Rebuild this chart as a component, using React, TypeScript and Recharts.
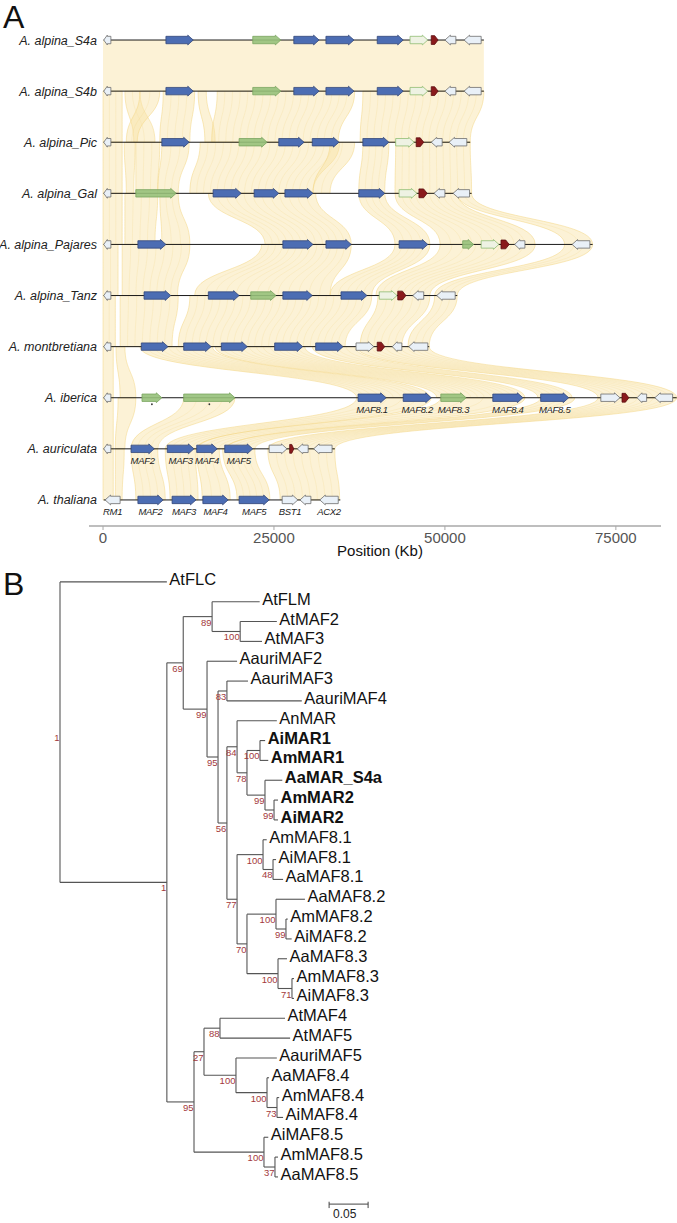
import React from "react"
import { ComposedChart, Scatter, XAxis, YAxis, ReferenceArea, ReferenceLine } from "recharts"

const FONT = "'Liberation Sans', Arial, Helvetica, sans-serif"

// ---------- panel A : synteny ----------
const trackNames = [
  "A. alpina_S4a",
  "A. alpina_S4b",
  "A. alpina_Pic",
  "A. alpina_Gal",
  "A. alpina_Pajares",
  "A. alpina_Tanz",
  "A. montbretiana",
  "A. iberica",
  "A. auriculata",
  "A. thaliana",
]
const trackStart = 100
const trackEnds = [55700, 55700, 53700, 53900, 71600, 51800, 47700, 83900, 33900, 34700]
const positionTicks = [0, 25000, 50000, 75000]

// [start kb, end kb, kind, strand, label?, dot?]
// kinds: b = blue MAF, g = green, l = pale green outline, r = red, w = white
type Gene = [number, number, string, number, string?, boolean?]

const s4aGenes: Gene[] = [
  [100, 1150, "w", -1],
  [9200, 13200, "b", 1],
  [21900, 26000, "g", 1],
  [27900, 31600, "b", 1],
  [32600, 36700, "b", 1],
  [40100, 43900, "b", 1],
  [44900, 47500, "l", 1],
  [48000, 49000, "r", 1],
  [50000, 51600, "w", -1],
  [52800, 55300, "w", -1],
]
const s4bGenes: Gene[] = [
  [100, 1150, "w", -1],
  [9200, 13200, "b", 1],
  [21900, 26000, "g", 1],
  [27900, 31600, "b", 1],
  [32600, 36700, "b", 1],
  [40100, 43900, "b", 1],
  [44900, 47500, "l", 1],
  [48000, 49000, "r", 1],
  [50000, 51600, "w", -1],
  [52800, 55300, "w", -1],
]
const picGenes: Gene[] = [
  [100, 1150, "w", -1],
  [8600, 12600, "b", 1],
  [19900, 24000, "g", 1],
  [25700, 29400, "b", 1],
  [30600, 34500, "b", 1],
  [38000, 41800, "b", 1],
  [42800, 45500, "l", 1],
  [45800, 46900, "r", 1],
  [48000, 49600, "w", -1],
  [50600, 53200, "w", -1],
]
const galGenes: Gene[] = [
  [100, 1150, "w", -1],
  [4800, 10700, "g", 1],
  [16100, 20200, "b", 1],
  [22100, 25700, "b", 1],
  [26600, 30700, "b", 1],
  [37400, 41200, "b", 1],
  [43300, 45900, "l", 1],
  [46200, 47400, "r", 1],
  [48400, 50000, "w", -1],
  [51200, 53600, "w", -1],
]
const pajaresGenes: Gene[] = [
  [100, 1150, "w", -1],
  [5100, 9200, "b", 1],
  [26300, 30700, "b", 1],
  [32600, 36300, "b", 1],
  [43300, 47500, "b", 1],
  [52600, 54200, "g", 1],
  [55300, 57900, "l", 1],
  [58200, 59400, "r", 1],
  [60200, 61700, "w", -1],
  [68600, 71200, "w", -1],
]
const tanzGenes: Gene[] = [
  [100, 1150, "w", -1],
  [6000, 9900, "b", 1],
  [15400, 19900, "b", 1],
  [21600, 25300, "g", 1],
  [26300, 30600, "b", 1],
  [34800, 38600, "b", 1],
  [40400, 43000, "l", 1],
  [43100, 44300, "r", 1],
  [45300, 46900, "w", -1],
  [48800, 51500, "w", -1],
]
const montGenes: Gene[] = [
  [100, 1150, "w", -1],
  [5600, 9500, "b", 1],
  [11800, 15800, "b", 1],
  [17300, 21100, "b", 1],
  [25100, 29200, "b", 1],
  [31100, 35100, "b", 1],
  [37000, 39600, "w", 1],
  [40100, 41200, "r", 1],
  [42300, 43700, "w", -1],
  [44700, 47500, "w", -1],
]
const ibericaGenes: Gene[] = [
  [100, 1150, "w", -1],
  [5700, 8600, "g", 1, undefined, true],
  [11800, 19300, "g", 1, undefined, true],
  [37300, 41400, "b", 1, "MAF8.1"],
  [43900, 48000, "b", 1, "MAF8.2"],
  [49400, 53100, "g", 1, "MAF8.3"],
  [57000, 61400, "b", 1, "MAF8.4"],
  [64000, 68100, "b", 1, "MAF8.5"],
  [72800, 75600, "w", 1],
  [75900, 76900, "r", 1],
  [78100, 79500, "w", -1],
  [80700, 83300, "w", -1],
]
const auriculataGenes: Gene[] = [
  [100, 1150, "w", -1],
  [4100, 7500, "b", 1, "MAF2"],
  [9400, 13300, "b", 1, "MAF3"],
  [13700, 16700, "b", 1, "MAF4"],
  [17800, 21900, "b", 1, "MAF5"],
  [24300, 26900, "w", 1],
  [27300, 27900, "r", 1],
  [28400, 30000, "w", -1],
  [30800, 33500, "w", -1],
]
const thalianaGenes: Gene[] = [
  [300, 2500, "w", -1, "RM1"],
  [5100, 8800, "b", 1, "MAF2"],
  [10100, 13600, "b", 1, "MAF3"],
  [14600, 18300, "b", 1, "MAF4"],
  [19900, 24300, "b", 1, "MAF5"],
  [26200, 28500, "w", 1, "BST1"],
  [28800, 30400, "w", -1],
  [31700, 34400, "w", -1, "ACX2"],
]
const trackGenes = [
  s4aGenes, s4bGenes, picGenes, galGenes, pajaresGenes,
  tanzGenes, montGenes, ibericaGenes, auriculataGenes, thalianaGenes,
]

// synteny ribbons between neighbouring tracks: [top start, top end, bottom start, bottom end]
const ribbons01 = [[0, 55700, 0, 55700]]
const ribbons12 = [
  [0, 2800, 0, 2800],
  [3200, 5400, 4500, 7600],
  [5400, 8300, 3400, 5000],
  [8800, 13400, 8300, 12700],
  [13900, 15100, 14900, 16400],
  [16700, 36800, 15900, 34400],
  [38000, 55700, 37600, 53700],
]
const ribbons23 = [
  [0, 2800, 0, 2800],
  [3100, 4700, 3400, 4500],
  [4800, 8300, 4800, 8000],
  [8600, 12600, 8000, 11000],
  [14200, 34600, 12700, 30700],
  [33200, 36800, 30700, 33200],
  [38000, 41800, 37400, 41200],
  [42800, 53700, 42700, 53900],
]
const ribbons34 = [
  [0, 2800, 0, 2800],
  [3200, 8000, 3200, 7600],
  [8300, 11000, 8600, 12700],
  [15400, 31100, 23700, 36300],
  [37400, 41200, 42700, 47800],
  [42700, 51800, 49300, 63200],
  [51800, 53900, 67500, 71600],
]
const ribbons45 = [
  [0, 2200, 0, 2200],
  [2800, 12700, 2800, 10900],
  [23200, 36300, 13400, 33200],
  [42700, 47800, 33200, 39300],
  [49300, 63200, 39900, 47800],
  [67500, 71600, 48500, 51800],
]
const ribbons56 = [
  [0, 1800, 0, 1800],
  [2500, 11000, 2500, 10100],
  [12700, 39300, 11000, 35400],
  [40200, 47800, 37600, 43700],
  [48500, 51800, 44600, 47700],
]
const ribbons67 = [
  [0, 1500, 0, 1500],
  [1900, 3200, 2500, 4800],
  [5400, 16000, 37100, 47800],
  [16400, 29500, 48800, 61700],
  [30600, 36800, 63600, 68600],
  [37100, 47700, 72400, 83900],
]
const ribbons78 = [
  [0, 1500, 0, 1500],
  [2200, 4800, 1800, 3200],
  [11800, 19300, 4100, 8000],
  [37100, 48000, 9100, 13900],
  [49400, 61700, 13700, 18000],
  [64000, 69000, 18000, 22200],
  [72400, 83900, 24100, 33900],
]
const ribbons89 = [
  [0, 1500, 0, 1500],
  [1800, 3100, 1800, 2800],
  [4100, 8000, 4800, 9100],
  [9100, 13500, 9800, 13900],
  [13700, 17000, 14500, 18600],
  [17500, 22200, 19600, 24400],
  [24100, 33900, 25900, 34600],
]
const trackRibbons = [ribbons01, ribbons12, ribbons23, ribbons34, ribbons45, ribbons56, ribbons67, ribbons78, ribbons89]

// ---------- panel B : tree ----------
const leafNames = [
  "AtFLC", "AtFLM", "AtMAF2", "AtMAF3", "AauriMAF2", "AauriMAF3", "AauriMAF4", "AnMAR",
  "AiMAR1", "AmMAR1", "AaMAR_S4a", "AmMAR2", "AiMAR2",
  "AmMAF8.1", "AiMAF8.1", "AaMAF8.1", "AaMAF8.2", "AmMAF8.2", "AiMAF8.2",
  "AaMAF8.3", "AmMAF8.3", "AiMAF8.3", "AtMAF4", "AtMAF5", "AauriMAF5",
  "AaMAF8.4", "AmMAF8.4", "AiMAF8.4", "AiMAF8.5", "AmMAF8.5", "AaMAF8.5",
]
// distance from root to each tip
const leafTips = [
  0.137, 0.256, 0.278, 0.259, 0.227, 0.241, 0.310, 0.278,
  0.263, 0.267, 0.285, 0.2795, 0.2795,
  0.265, 0.277, 0.286, 0.314, 0.292, 0.297,
  0.291, 0.300, 0.300, 0.2885, 0.295, 0.278,
  0.268, 0.281, 0.286, 0.267, 0.2795, 0.2795,
]
const boldLeaves = ["AiMAR1", "AmMAR1", "AaMAR_S4a", "AmMAR2", "AiMAR2"]

type TreeNode = { id: string; x: number; kids: (number | string)[]; boot: string }
const treeNodes: TreeNode[] = [
  { id: "root", x: 0, kids: [0, "n1"], boot: "1" },
  { id: "n1", x: 0.137, kids: ["n69", "n95"], boot: "1" },
  { id: "n69", x: 0.158, kids: ["n89", "n99"], boot: "69" },
  { id: "n89", x: 0.195, kids: [1, "n100a"], boot: "89" },
  { id: "n100a", x: 0.231, kids: [2, 3], boot: "100" },
  { id: "n99", x: 0.1885, kids: [4, "n95b"], boot: "99" },
  { id: "n95b", x: 0.2026, kids: ["n83", "n56"], boot: "95" },
  { id: "n83", x: 0.214, kids: [5, 6], boot: "83" },
  { id: "n56", x: 0.214, kids: ["n84", "n77"], boot: "56" },
  { id: "n84", x: 0.227, kids: [7, "n78"], boot: "84" },
  { id: "n78", x: 0.2397, kids: ["n100b", "n99b"], boot: "78" },
  { id: "n100b", x: 0.2564, kids: [8, 9], boot: "100" },
  { id: "n99b", x: 0.2628, kids: [10, "n99c"], boot: "99" },
  { id: "n99c", x: 0.2744, kids: [11, 12], boot: "99" },
  { id: "n77", x: 0.227, kids: ["n100c", "n70"], boot: "77" },
  { id: "n100c", x: 0.2603, kids: [13, "n48"], boot: "100" },
  { id: "n48", x: 0.2731, kids: [14, 15], boot: "48" },
  { id: "n70", x: 0.2397, kids: ["n100d", "n100e"], boot: "70" },
  { id: "n100d", x: 0.2769, kids: [16, "n99d"], boot: "100" },
  { id: "n99d", x: 0.2897, kids: [17, 18], boot: "99" },
  { id: "n100e", x: 0.2795, kids: [19, "n71"], boot: "100" },
  { id: "n71", x: 0.2974, kids: [20, 21], boot: "71" },
  { id: "n95", x: 0.1718, kids: ["n27", "n100f"], boot: "95" },
  { id: "n27", x: 0.1846, kids: ["n88", "n100g"], boot: "27" },
  { id: "n88", x: 0.2051, kids: [22, 23], boot: "88" },
  { id: "n100g", x: 0.2256, kids: [24, "n100h"], boot: "100" },
  { id: "n100h", x: 0.2654, kids: [25, "n73"], boot: "100" },
  { id: "n73", x: 0.2782, kids: [26, 27], boot: "73" },
  { id: "n100f", x: 0.2615, kids: [28, "n37"], boot: "100" },
  { id: "n37", x: 0.2756, kids: [29, 30], boot: "37" },
]
const scaleBarStart = 0.345
const scaleBarLength = 0.05
const scaleBarRow = 31.37

// ---------- helpers ----------
const geneStyle: Record<string, { fill: string; stroke: string }> = {
  b: { fill: "#4c6db3", stroke: "#34487a" },
  g: { fill: "#97c17b", stroke: "#7aa55f" },
  l: { fill: "#eef2e3", stroke: "#8fbd72" },
  r: { fill: "#8a1a1c", stroke: "#5a0e10" },
  w: { fill: "#e9f0f7", stroke: "#6d6d6d" },
}

function GeneArrow(props: any) {
  const { x, y, width, height, gene } = props
  const [, , kind, dir, label, dot] = gene as Gene
  const st = geneStyle[kind]
  const cy = y + height / 2
  const body = kind === "r" ? 4.4 : 3.7
  const head = kind === "r" ? 4.4 : 4.9
  const hl = Math.min(kind === "r" ? 3.5 : 5.5, width * 0.5)
  const L = x
  const R = x + width
  let pts: number[][]
  if (dir > 0) {
    const h = R - hl
    pts = [[L, cy - body], [h, cy - body], [h, cy - head], [R, cy], [h, cy + head], [h, cy + body], [L, cy + body]]
  } else {
    const h = L + hl
    pts = [[R, cy - body], [h, cy - body], [h, cy - head], [L, cy], [h, cy + head], [h, cy + body], [R, cy + body]]
  }
  return (
    <g>
      <polygon
        points={pts.map((p) => p.join(",")).join(" ")}
        fill={st.fill}
        stroke={st.stroke}
        strokeWidth={0.8}
        fillOpacity={kind === "g" ? 0.9 : 1}
      />
      {label && (
        <text
          x={x + width / 2}
          y={cy + 15}
          textAnchor="middle"
          fontSize={9.5}
          letterSpacing={-0.3}
          fontStyle="italic"
          fontFamily={FONT}
          fill="#222"
        >
          {label}
        </text>
      )}
      {dot && <circle cx={x + width / 2} cy={cy + 6.5} r={0.9} fill="#333" />}
    </g>
  )
}

function TrackLine(props: any) {
  const { x, y, width, height } = props
  const cy = y + height / 2
  return <line x1={x} x2={x + width} y1={cy} y2={cy} stroke="#1a1a1a" strokeWidth={1} />
}

function Ribbon(props: any) {
  const { x, y, width, height, rb, plain } = props
  const [t1, t2, b1, b2] = rb as number[]
  const lo = Math.min(t1, b1)
  const hi = Math.max(t2, b2)
  const px = (v: number) => x + ((v - lo) / (hi - lo)) * width
  const ty = y
  const by = y + height
  const my = (ty + by) / 2
  const T1 = px(t1), T2 = px(t2), B1 = px(b1), B2 = px(b2)
  const d = `M${T1},${ty} C${T1},${my} ${B1},${my} ${B1},${by} L${B2},${by} C${B2},${my} ${T2},${my} ${T2},${ty} Z`
  const strands: string[] = []
  if (!plain) {
    const n = Math.max(1, Math.round(Math.min(T2 - T1, B2 - B1) / 7))
    for (let j = 1; j < n; j++) {
      const f = j / n
      const tx = T1 + f * (T2 - T1)
      const bx = B1 + f * (B2 - B1)
      strands.push(`M${tx},${ty} C${tx},${my} ${bx},${my} ${bx},${by}`)
    }
  }
  return (
    <g>
      <path d={d} fill="#f8e3a4" fillOpacity={0.45} stroke={plain ? "none" : "#f2d47e"} strokeWidth={0.7} strokeOpacity={0.7} />
      {strands.map((s, i) => (
        <path key={i} d={s} fill="none" stroke="#f2d47e" strokeWidth={0.5} strokeOpacity={0.4} />
      ))}
    </g>
  )
}

function TrackLabel(props: any) {
  const { cx, cy, payload } = props
  return (
    <text x={cx - 6} y={cy + 4.5} textAnchor="end" fontSize={12.5} fontStyle="italic" fontFamily={FONT} fill="#222">
      {payload.name}
    </text>
  )
}

const nodeById: Record<string, TreeNode> = Object.fromEntries(treeNodes.map((n) => [n.id, n]))
const rowOf = (k: number | string): number => {
  if (typeof k === "number") return k
  const kids = nodeById[k].kids
  return (rowOf(kids[0]) + rowOf(kids[kids.length - 1])) / 2
}
const distOf = (k: number | string): number => (typeof k === "number" ? leafTips[k] : nodeById[k].x)

const branchSegments: { x: number; y: number }[][] = []
treeNodes.forEach((n) => {
  const first = rowOf(n.kids[0])
  const last = rowOf(n.kids[n.kids.length - 1])
  branchSegments.push([{ x: n.x, y: first }, { x: n.x, y: last }])
  n.kids.forEach((k) => {
    branchSegments.push([{ x: n.x, y: rowOf(k) }, { x: distOf(k), y: rowOf(k) }])
  })
})

const leafData = leafNames.map((name, i) => ({ x: leafTips[i], y: i, name, bold: boldLeaves.includes(name) }))
const nodeData = treeNodes.map((n) => ({ x: n.x, y: rowOf(n.id), boot: n.boot }))
const trackLabelData = trackNames.map((name, i) => ({ x: 0, y: i, name }))

function LeafLabel(props: any) {
  const { cx, cy, payload } = props
  return (
    <text
      x={cx + 2.5}
      y={cy + 3}
      fontSize={16.5}
      fontWeight={payload.bold ? "bold" : "normal"}
      fontFamily={FONT}
      fill="#111"
    >
      {payload.name}
    </text>
  )
}

function BootLabel(props: any) {
  const { cx, cy, payload } = props
  return (
    <text x={cx - 0.5} y={cy + 9} textAnchor="end" fontSize={9.5} fontFamily={FONT} fill="#a3393b">
      {payload.boot}
    </text>
  )
}

function ScaleLabel(props: any) {
  const { cx, cy } = props
  return (
    <text x={cx + 4} y={cy + 14} fontSize={12} fontFamily={FONT} fill="#222">
      {scaleBarLength.toFixed(2)}
    </text>
  )
}

const panelLetter: React.CSSProperties = {
  position: "absolute",
  left: 3,
  fontFamily: FONT,
  fontSize: 32,
  lineHeight: "32px",
  color: "#111",
}

export default function App() {
  return (
    <div style={{ position: "relative", width: 677, height: 1223, background: "#fff" }}>
      <style>{"body{margin:0}"}</style>
      <div style={{ ...panelLetter, top: 1 }}>A</div>
      <div style={{ ...panelLetter, top: 568 }}>B</div>

      <ComposedChart width={677} height={560} margin={{ top: 4, right: 16, bottom: 0, left: 89 }}>
        <XAxis
          type="number"
          dataKey="x"
          domain={[-2050, 81600]}
          ticks={positionTicks}
          height={34}
          axisLine={{ stroke: "#a8a8a8", strokeWidth: 1.6 }}
          tickLine={{ stroke: "#a8a8a8" }}
          tickSize={4}
          tick={{ fill: "#555", fontSize: 15, fontFamily: FONT }}
          label={{ value: "Position (Kb)", position: "insideBottom", offset: 4, dx: 5, fill: "#111", fontSize: 15, fontFamily: FONT }}
        />
        <YAxis type="number" dataKey="y" domain={[-0.705, 9.51]} reversed hide />
        {trackRibbons.map((list, i) =>
          list.map((rb, j) => (
            <ReferenceArea
              key={`rb-${i}-${j}`}
              x1={Math.min(rb[0], rb[2])}
              x2={Math.max(rb[1], rb[3])}
              y1={i}
              y2={i + 1}
              ifOverflow="visible"
              shape={(p: any) => <Ribbon {...p} rb={rb} plain={i === 0} />}
            />
          ))
        )}
        {trackEnds.map((end, i) => (
          <ReferenceArea
            key={`tl-${i}`}
            x1={trackStart}
            x2={end}
            y1={i - 0.02}
            y2={i + 0.02}
            ifOverflow="visible"
            shape={(p: any) => <TrackLine {...p} />}
          />
        ))}
        {trackGenes.map((genes, i) =>
          genes.map((g, j) => (
            <ReferenceArea
              key={`g-${i}-${j}`}
              x1={g[0]}
              x2={g[1]}
              y1={i - 0.1}
              y2={i + 0.1}
              ifOverflow="visible"
              shape={(p: any) => <GeneArrow {...p} gene={g} />}
            />
          ))
        )}
        <Scatter data={trackLabelData} dataKey="y" isAnimationActive={false} shape={(p: any) => <TrackLabel {...p} />} />
      </ComposedChart>

      <ComposedChart width={677} height={663} margin={{ top: 10, right: 71, bottom: 6.4, left: 60 }}>
        <XAxis type="number" dataKey="x" domain={[0, 0.7]} hide />
        <YAxis type="number" dataKey="y" domain={[-0.6, 32]} reversed hide />
        {branchSegments.map((seg, i) => (
          <ReferenceLine key={`br-${i}`} segment={seg} stroke="#555" strokeWidth={1.1} ifOverflow="visible" />
        ))}
        <ReferenceLine
          segment={[{ x: scaleBarStart, y: scaleBarRow }, { x: scaleBarStart + scaleBarLength, y: scaleBarRow }]}
          stroke="#444"
          strokeWidth={1}
          ifOverflow="visible"
        />
        <ReferenceLine
          segment={[{ x: scaleBarStart, y: scaleBarRow - 0.12 }, { x: scaleBarStart, y: scaleBarRow + 0.2 }]}
          stroke="#444"
          ifOverflow="visible"
        />
        <ReferenceLine
          segment={[{ x: scaleBarStart + scaleBarLength, y: scaleBarRow - 0.12 }, { x: scaleBarStart + scaleBarLength, y: scaleBarRow + 0.2 }]}
          stroke="#444"
          ifOverflow="visible"
        />
        <Scatter data={leafData} dataKey="y" isAnimationActive={false} shape={(p: any) => <LeafLabel {...p} />} />
        <Scatter data={nodeData} dataKey="y" isAnimationActive={false} shape={(p: any) => <BootLabel {...p} />} />
        <Scatter
          data={[{ x: scaleBarStart, y: scaleBarRow }]}
          dataKey="y"
          isAnimationActive={false}
          shape={(p: any) => <ScaleLabel {...p} />}
        />
      </ComposedChart>
    </div>
  )
}
